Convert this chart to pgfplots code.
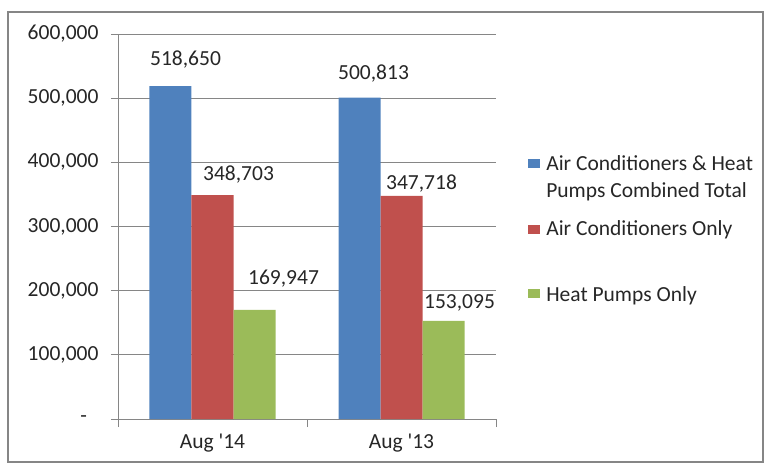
\documentclass[border=0pt]{standalone}
\usepackage{pgfplots}
\pgfplotsset{compat=1.18}
\usepackage{fontspec}
\setmainfont{Carlito}

\definecolor{acblue}{HTML}{4F81BD}
\definecolor{acred}{HTML}{C0504D}
\definecolor{acgreen}{HTML}{9BBB59}
\definecolor{gridgray}{HTML}{868686}
\definecolor{txt}{HTML}{262626}

% legend squares; the raised one sits on the first of two lines
\pgfplotsset{
	legsq/.style={legend image code/.code={
		\fill[##1,draw=none] (2pt,3pt) rectangle (14pt,12pt);
		\path (18pt,6pt);}},
	legsqup/.style={legend image code/.code={
		\fill[##1,draw=none] (2pt,29pt) rectangle (14pt,38pt);
		\path (18pt,6pt);}},
}

\begin{document}
\begin{tikzpicture}
	% frame and page size (1pt = 1px of the reference)
	\useasboundingbox (-118pt,-47pt) rectangle (650pt,419pt);
	\draw[gridgray, line width=1.2pt] (-110pt,-43pt) rectangle (645pt,407pt);

	\begin{axis}[
		scale only axis,
		width=378pt, height=385pt,
		ybar, bar width=42pt, ybar=0pt,
		xmin=-0.5, xmax=1.5,
		ymin=0, ymax=600000,
		scaled y ticks=false,
		font=\fontsize{21.5}{23}\selectfont,
		text=txt,
		% category ticks
		xtick={0,1},
		xticklabels={Aug \textquotesingle 14, Aug \textquotesingle 13},
		major x tick style={draw=none},
		minor xtick={-0.5,0.5,1.5},
		minor tick length=8pt,
		xtick align=outside,
		xticklabel style={yshift=-4pt},
		% value ticks
		ytick={0,100000,...,600000},
		yticklabels={{\makebox[18pt][l]{-}},{100,000},{200,000},{300,000},{400,000},{500,000},{600,000}},
		ytick align=outside,
		major tick length=7pt,
		yticklabel style={xshift=-9pt},
		tick style={gridgray, line width=0.8pt},
		tick pos=left,
		ymajorgrids,
		grid style={gridgray, line width=0.8pt},
		axis x line*=bottom,
		axis y line*=left,
		axis line style={gridgray, line width=0.8pt},
		% value labels, each shifted as in the reference
		nodes near coords,
		point meta=explicit symbolic,
		visualization depends on={\thisrow{dx} \as \dx},
		visualization depends on={\thisrow{dy} \as \dy},
		every node near coord/.append style={anchor=base, xshift=\dx pt, yshift=\dy pt, text=txt},
		% legend
		legend style={at={(1.085,0.69)}, anchor=north west, draw=none, fill=none,
			font=\fontsize{21.5}{27}\selectfont,
			row sep=18pt, inner sep=0pt,
			cells={align=left, anchor=base west}},
		legsq,
		]

		\addplot[fill=acblue, draw=none, legsqup] table[meta=label] {
			x y      label   dx dy
			0 518650 518,650 15 21
			1 500813 500,813 14 18
		};
		\addlegendentry{Air Conditioners \& Heat\\Pumps Combined Total}

		\addplot[fill=acred, draw=none, legsqup] table[meta=label] {
			x y      label   dx dy
			0 348703 348,703 26 15
			1 347718 347,718 20 6
		};
		\addlegendentry{Air Conditioners Only\\\mbox{}}

		\addplot[fill=acgreen, draw=none] table[meta=label] {
			x y      label   dx dy
			0 169947 169,947 29 25
			1 153095 153,095 16 12
		};
		\addlegendentry{Heat Pumps Only}
	\end{axis}
\end{tikzpicture}
\end{document}
